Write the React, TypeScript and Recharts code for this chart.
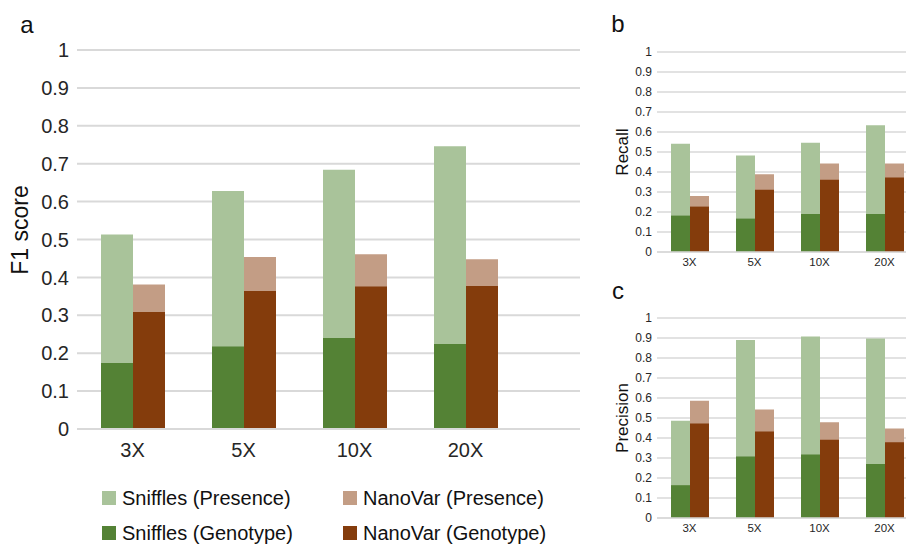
import type { FC } from "react";
import { Bar, BarChart, CartesianGrid, XAxis, YAxis } from "recharts";

const coverages = ["3X", "5X", "10X", "20X"];
const yTicks = [0, 0.1, 0.2, 0.3, 0.4, 0.5, 0.6, 0.7, 0.8, 0.9, 1];

// panel a: F1 score
const f1SnifflesPresence = [0.513, 0.628, 0.684, 0.746];
const f1SnifflesGenotype = [0.174, 0.218, 0.24, 0.224];
const f1NanoVarPresence = [0.381, 0.454, 0.461, 0.448];
const f1NanoVarGenotype = [0.309, 0.364, 0.376, 0.377];

// panel b: recall
const recallSnifflesPresence = [0.541, 0.482, 0.546, 0.634];
const recallSnifflesGenotype = [0.182, 0.167, 0.19, 0.19];
const recallNanoVarPresence = [0.28, 0.389, 0.442, 0.442];
const recallNanoVarGenotype = [0.227, 0.311, 0.361, 0.372];

// panel c: precision
const precSnifflesPresence = [0.486, 0.89, 0.908, 0.898];
const precSnifflesGenotype = [0.164, 0.307, 0.317, 0.27];
const precNanoVarPresence = [0.586, 0.543, 0.479, 0.447];
const precNanoVarGenotype = [0.472, 0.432, 0.391, 0.379];

const COLORS = {
  snifflesPresence: "#a9c39a",
  snifflesGenotype: "#548235",
  nanoVarPresence: "#c39d85",
  nanoVarGenotype: "#843c0c",
};

const FONT = '"Liberation Sans", Arial, sans-serif';

const buildRows = (sp: number[], sg: number[], np: number[], ng: number[]) =>
  coverages.map((cov, i) => ({
    cov,
    snifflesPresence: sp[i],
    snifflesGenotype: sg[i],
    nanoVarPresence: np[i],
    nanoVarGenotype: ng[i],
  }));

type PanelProps = {
  data: ReturnType<typeof buildRows>;
  width: number;
  height: number;
  margin: { top: number; right: number; left: number; bottom: number };
  yAxisWidth: number;
  xAxisHeight: number;
  padRight: number;
  barSize: number;
  tickFont: number;
  xTickFont: number;
  xTickMargin: number;
  yTickSize: number;
  gridWidth: number;
};

const Panel: FC<PanelProps> = ({
  data,
  width,
  height,
  margin,
  yAxisWidth,
  xAxisHeight,
  padRight,
  barSize,
  tickFont,
  xTickFont,
  xTickMargin,
  yTickSize,
  gridWidth,
}) => (
  <BarChart
    width={width}
    height={height}
    data={data}
    margin={margin}
    barGap={0}
    barSize={barSize}
  >
    <CartesianGrid
      vertical={false}
      stroke="#d9d9d9"
      strokeWidth={gridWidth}
      xAxisId="p"
    />
    <XAxis
      xAxisId="p"
      dataKey="cov"
      height={xAxisHeight}
      padding={{ left: 0, right: padRight }}
      tickLine={false}
      tickMargin={xTickMargin}
      axisLine={{ stroke: "#d9d9d9", strokeWidth: gridWidth }}
      tick={{ fill: "#262626", fontSize: xTickFont, fontFamily: FONT }}
      interval={0}
    />
    {/* twin axis so genotype bars sit over the presence bars */}
    <XAxis
      xAxisId="g"
      dataKey="cov"
      hide
      height={0}
      orientation="top"
      padding={{ left: 0, right: padRight }}
    />
    <YAxis
      domain={[0, 1]}
      ticks={yTicks}
      width={yAxisWidth}
      tickLine={false}
      tickSize={yTickSize}
      axisLine={false}
      interval={0}
      tick={{ fill: "#262626", fontSize: tickFont, fontFamily: FONT }}
    />
    <Bar
      xAxisId="p"
      dataKey="snifflesPresence"
      fill={COLORS.snifflesPresence}
      isAnimationActive={false}
    />
    <Bar
      xAxisId="p"
      dataKey="nanoVarPresence"
      fill={COLORS.nanoVarPresence}
      isAnimationActive={false}
    />
    <Bar
      xAxisId="g"
      dataKey="snifflesGenotype"
      fill={COLORS.snifflesGenotype}
      isAnimationActive={false}
    />
    <Bar
      xAxisId="g"
      dataKey="nanoVarGenotype"
      fill={COLORS.nanoVarGenotype}
      isAnimationActive={false}
    />
  </BarChart>
);

const legendItems = [
  { label: "Sniffles (Presence)", color: COLORS.snifflesPresence, left: 102, top: 498 },
  { label: "NanoVar (Presence)", color: COLORS.nanoVarPresence, left: 343, top: 498 },
  { label: "Sniffles (Genotype)", color: COLORS.snifflesGenotype, left: 102, top: 533 },
  { label: "NanoVar (Genotype)", color: COLORS.nanoVarGenotype, left: 343, top: 533 },
];

const absText = (
  text: string,
  left: number,
  top: number,
  size: number,
  rotate = false
) => (
  <div
    key={text}
    style={{
      position: "absolute",
      left,
      top,
      transform: `translate(-50%, -50%)${rotate ? " rotate(-90deg)" : ""}`,
      fontSize: size,
      fontFamily: FONT,
      color: "#111",
      whiteSpace: "nowrap",
      lineHeight: 1,
    }}
  >
    {text}
  </div>
);

export default function App() {
  const f1Rows = buildRows(
    f1SnifflesPresence,
    f1SnifflesGenotype,
    f1NanoVarPresence,
    f1NanoVarGenotype
  );
  const recallRows = buildRows(
    recallSnifflesPresence,
    recallSnifflesGenotype,
    recallNanoVarPresence,
    recallNanoVarGenotype
  );
  const precRows = buildRows(
    precSnifflesPresence,
    precSnifflesGenotype,
    precNanoVarPresence,
    precNanoVarGenotype
  );

  return (
    <div
      style={{
        position: "absolute",
        left: 0,
        top: 0,
        width: 906,
        height: 544,
        overflow: "hidden",
        background: "#fff",
        fontFamily: FONT,
      }}
    >
      <div style={{ position: "absolute", left: 0, top: 0 }}>
        <Panel
          data={f1Rows}
          width={590}
          height={470}
          margin={{ top: 50, right: 10, left: 0, bottom: 0 }}
          yAxisWidth={77}
          xAxisHeight={41}
          padRight={59}
          barSize={32}
          tickFont={20}
          xTickFont={20}
          xTickMargin={8}
          yTickSize={6}
          gridWidth={2}
        />
      </div>
      <div style={{ position: "absolute", left: 580, top: 0 }}>
        <Panel
          data={recallRows}
          width={337}
          height={275}
          margin={{ top: 52, right: 0, left: 0, bottom: 0 }}
          yAxisWidth={77}
          xAxisHeight={23}
          padRight={0}
          barSize={19}
          tickFont={12}
          xTickFont={11.5}
          xTickMargin={0}
          yTickSize={3}
          gridWidth={1.5}
        />
      </div>
      <div style={{ position: "absolute", left: 580, top: 270 }}>
        <Panel
          data={precRows}
          width={337}
          height={274}
          margin={{ top: 48, right: 0, left: 0, bottom: 0 }}
          yAxisWidth={77}
          xAxisHeight={26}
          padRight={0}
          barSize={19}
          tickFont={12}
          xTickFont={11.5}
          xTickMargin={0}
          yTickSize={3}
          gridWidth={1.5}
        />
      </div>

      {absText("a", 27, 25, 24)}
      {absText("b", 618, 24, 24)}
      {absText("c", 618, 291, 24)}
      {absText("F1 score", 20, 230, 23, true)}
      {absText("Recall", 622, 152, 17, true)}
      {absText("Precision", 622, 418, 17, true)}

      {legendItems.map((item) => (
        <div
          key={item.label}
          style={{
            position: "absolute",
            left: item.left,
            top: item.top,
            transform: "translateY(-50%)",
            display: "flex",
            alignItems: "center",
            fontSize: 20,
            color: "#111",
            whiteSpace: "nowrap",
            lineHeight: 1,
          }}
        >
          <span
            style={{
              display: "inline-block",
              width: 14,
              height: 14,
              background: item.color,
              marginRight: 6,
            }}
          />
          {item.label}
        </div>
      ))}
    </div>
  );
}
